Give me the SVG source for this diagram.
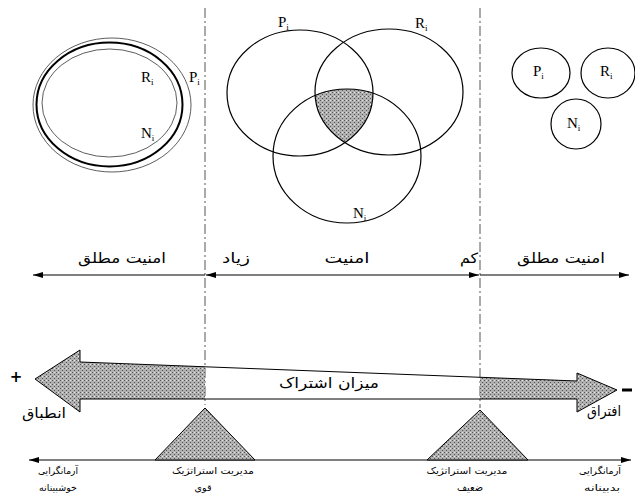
<svg xmlns="http://www.w3.org/2000/svg" width="635" height="501" viewBox="0 0 635 501">
<style>
.ln{fill:none;stroke:#000;stroke-width:1.2}
.thin{fill:none;stroke:#333;stroke-width:0.8}
.dash{fill:none;stroke:#444;stroke-width:0.9;stroke-dasharray:10 3 2 3}
.lbl{font-family:"Liberation Serif",serif;font-size:15px;fill:#000}
.fa{font-family:"DejaVu Sans",sans-serif;fill:#000;text-anchor:middle}
.m{font-size:14px}
.s{font-size:9.5px}
</style>
<defs>
<pattern id="dots" width="4" height="4" patternUnits="userSpaceOnUse">
<rect width="4" height="4" fill="#b0b0b0"/>
<rect x="0" y="0" width="1" height="1" fill="#555"/>
<rect x="2" y="2" width="1" height="1" fill="#555"/>
<rect x="2" y="0" width="1" height="1" fill="#e6e6e6"/>
</pattern>
<marker id="ah" viewBox="0 0 10 6" refX="10" refY="3" markerWidth="11" markerHeight="6" markerUnits="userSpaceOnUse" orient="auto-start-reverse">
<path d="M0,0 L10,3 L0,6 Z" fill="#000"/>
</marker>
<clipPath id="cp"><ellipse cx="300" cy="93" rx="73" ry="63"/></clipPath>
<clipPath id="cr"><ellipse cx="389" cy="92" rx="74" ry="63"/></clipPath>
</defs>

<g id="dividers">
<line class="dash" x1="205" y1="8" x2="205" y2="405"/>
<line class="dash" x1="480" y1="8" x2="480" y2="408"/>
</g>

<g id="nested">
<ellipse class="thin" cx="112" cy="105" rx="79" ry="67"/>
<ellipse fill="none" stroke="#000" stroke-width="2" cx="109.5" cy="104.5" rx="73" ry="62"/>
<ellipse class="thin" cx="109.5" cy="103" rx="67.5" ry="54"/>
<text class="lbl" x="141" y="82">R<tspan font-size="9" dy="3">i</tspan></text>
<text class="lbl" x="189" y="82">P<tspan font-size="9" dy="3">i</tspan></text>
<text class="lbl" x="141" y="138">N<tspan font-size="9" dy="3">i</tspan></text>
</g>

<g id="venn">
<g clip-path="url(#cp)"><g clip-path="url(#cr)"><ellipse cx="347" cy="156" rx="74" ry="67" fill="url(#dots)"/></g></g>
<ellipse class="ln" cx="300" cy="93" rx="73" ry="63"/>
<ellipse class="ln" cx="389" cy="92" rx="74" ry="63"/>
<ellipse class="ln" cx="347" cy="156" rx="74" ry="67"/>
<text class="lbl" x="278" y="27">P<tspan font-size="9" dy="3">i</tspan></text>
<text class="lbl" x="415" y="28">R<tspan font-size="9" dy="3">i</tspan></text>
<text class="lbl" x="353" y="218">N<tspan font-size="9" dy="3">i</tspan></text>
</g>

<g id="separate">
<ellipse class="ln" cx="541" cy="73" rx="29" ry="25"/>
<text class="lbl" x="533" y="76">P<tspan font-size="9" dy="3">i</tspan></text>
<ellipse class="ln" cx="608" cy="73" rx="27" ry="25"/>
<text class="lbl" x="600" y="76">R<tspan font-size="9" dy="3">i</tspan></text>
<ellipse class="ln" cx="576" cy="124" rx="25" ry="25"/>
<text class="lbl" x="567" y="128">N<tspan font-size="9" dy="3">i</tspan></text>
</g>

<g id="connectors">
<line class="ln" x1="205" y1="275" x2="33" y2="275" marker-end="url(#ah)"/>
<line class="ln" x1="206" y1="275" x2="479" y2="275" marker-start="url(#ah)" marker-end="url(#ah)"/>
<line class="ln" x1="480" y1="275" x2="629" y2="275" marker-end="url(#ah)"/>
<line fill="none" stroke="#000" stroke-width="1" x1="29" y1="460" x2="631" y2="460" marker-start="url(#ah)" marker-end="url(#ah)"/>
</g>

<g id="security-labels">
<text class="fa m" x="122" y="263" textLength="88" lengthAdjust="spacingAndGlyphs">امنیت مطلق</text>
<text class="fa m" x="236" y="263" textLength="28" lengthAdjust="spacingAndGlyphs">زیاد</text>
<text class="fa m" x="347" y="263" textLength="45" lengthAdjust="spacingAndGlyphs">امنیت</text>
<text class="fa m" x="469" y="263" textLength="18" lengthAdjust="spacingAndGlyphs">کم</text>
<text class="fa m" x="561" y="263" textLength="88" lengthAdjust="spacingAndGlyphs">امنیت مطلق</text>
</g>

<g id="share-arrow">
<polygon points="35,379 80,350 80,362 205,366.8 205,399 80,399 80,412" fill="url(#dots)"/>
<polygon points="480,377.3 577,381 577,373 617,390 577,412 577,399 480,399" fill="url(#dots)"/>
<polygon points="35,379 80,350 80,362 577,381 577,373 617,390 577,412 577,399 80,399 80,412" fill="none" stroke="#000" stroke-width="1"/>
<text class="fa m" x="329" y="388" textLength="100" lengthAdjust="spacingAndGlyphs">میزان اشتراک</text>
<text x="16" y="382" font-family="DejaVu Sans,sans-serif" font-size="15" font-weight="bold" text-anchor="middle">+</text>
<rect x="622" y="388.5" width="10" height="3" fill="#000"/>
<text class="fa m" x="44" y="418" textLength="44" lengthAdjust="spacingAndGlyphs">انطباق</text>
<text class="fa m" x="604" y="416" textLength="34" lengthAdjust="spacingAndGlyphs">افتراق</text>
</g>

<g id="strong">
<polygon points="205,408 155,460 255,460" fill="url(#dots)" stroke="#000" stroke-width="1"/>
</g>
<g id="weak">
<polygon points="480,410 427,460 528,460" fill="url(#dots)" stroke="#000" stroke-width="1"/>
</g>

<g id="bottom-labels">
<text class="fa s" x="58" y="474" textLength="40" lengthAdjust="spacingAndGlyphs">آرمانگرایی</text>
<text class="fa s" x="58" y="491" textLength="38" lengthAdjust="spacingAndGlyphs">خوشبینانه</text>
<text class="fa s" x="213" y="474" textLength="82" lengthAdjust="spacingAndGlyphs">مدیریت استراتژیک</text>
<text class="fa s" x="203" y="491">قوی</text>
<text class="fa s" x="467" y="474" textLength="81" lengthAdjust="spacingAndGlyphs">مدیریت استراتژیک</text>
<text class="fa s" x="470" y="491" textLength="26" lengthAdjust="spacingAndGlyphs">ضعیف</text>
<text class="fa s" x="600" y="474" textLength="42" lengthAdjust="spacingAndGlyphs">آرمانگرایی</text>
<text class="fa s" x="602" y="491" textLength="36" lengthAdjust="spacingAndGlyphs">بدبینانه</text>
</g>
</svg>
